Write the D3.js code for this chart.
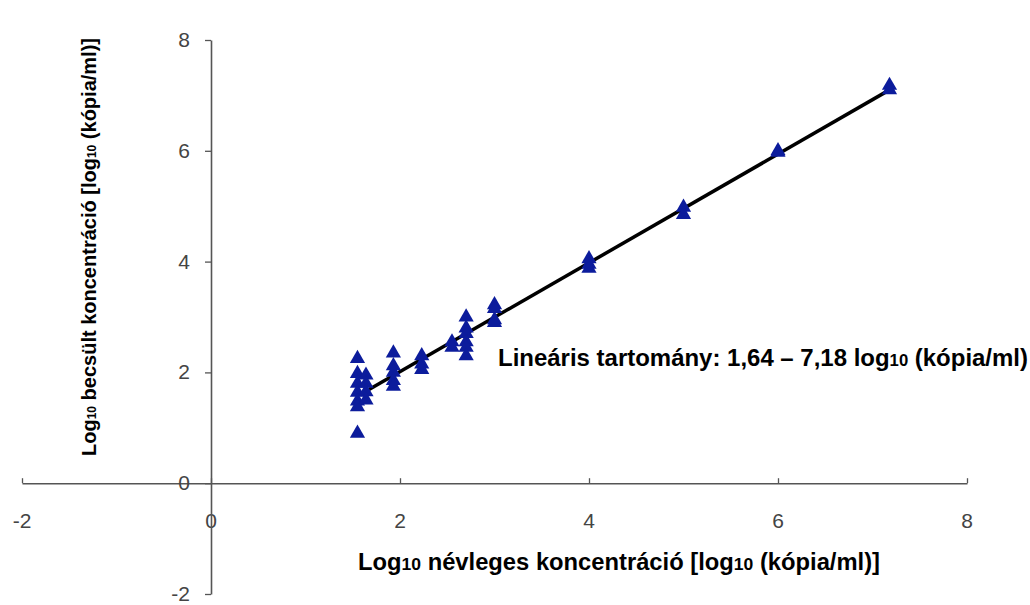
<!DOCTYPE html>
<html><head><meta charset="utf-8">
<script src="https://cdn.jsdelivr.net/npm/d3@7"></script>
<style>body{margin:0;background:#fff}</style>
</head><body>
<svg id="c" width="1030" height="605"></svg>
<script>
// Nominal log10 concentration (x) and estimated log10 concentration (y)
const xNominal = [1.55,1.55,1.55,1.55,1.55,1.55,1.55,
                  1.64,1.64,1.64,1.64,
                  1.93,1.93,1.93,1.93,1.93,
                  2.23,2.23,2.23,
                  2.55,2.55,
                  2.70,2.70,2.70,2.70,2.70,2.70,
                  3.00,3.00,3.00,3.00,
                  4.00,4.00,4.00,
                  5.00,5.00,
                  6.00,6.00,
                  7.18,7.18];
const yEstimated = [2.25,1.98,1.80,1.64,1.48,1.38,0.90,
                    1.95,1.80,1.65,1.50,
                    2.35,2.12,2.00,1.85,1.75,
                    2.30,2.15,2.05,
                    2.55,2.45,
                    3.00,2.80,2.70,2.55,2.45,2.30,
                    3.22,3.15,2.95,2.90,
                    4.05,3.95,3.88,
                    4.98,4.85,
                    6.00,5.97,
                    7.18,7.10];
const xTicks = [-2,0,2,4,6,8];
const yTicks = [-2,0,2,4,6,8];
const fitX = [1.64, 7.18];
const fitY = [1.66, 7.10];

const svg = d3.select("#c");
const x = d3.scaleLinear().domain([-2,8]).range([22,967]);
const y = d3.scaleLinear().domain([-2,8]).range([594,40]);
const axisColor = "#555";

// x axis line at y=0
const gx = svg.append("g").attr("transform",`translate(0,${y(0)})`);
gx.call(d3.axisTop(x).tickValues(xTicks).tickSize(5).tickSizeOuter(0).tickFormat(""));
gx.select(".domain").attr("stroke",axisColor).attr("stroke-width",1.6);
gx.selectAll(".tick line").attr("stroke",axisColor).attr("stroke-width",1.3);
svg.append("g").selectAll("text").data(xTicks).join("text")
  .attr("x",d=>x(d)).attr("y",y(0)+45)
  .attr("text-anchor","middle")
  .attr("font-family","Liberation Sans, Arial, sans-serif").attr("font-size",21)
  .attr("fill","#444").text(d=>d);

// y axis line at x=0
const gy = svg.append("g").attr("transform",`translate(${x(0)},0)`);
gy.call(d3.axisLeft(y).tickValues(yTicks).tickSize(6).tickSizeOuter(0).tickFormat(""));
gy.select(".domain").attr("stroke",axisColor).attr("stroke-width",1.6);
gy.selectAll(".tick line").attr("stroke",axisColor).attr("stroke-width",1.3);
svg.append("g").selectAll("text").data(yTicks).join("text")
  .attr("x",x(0)-21).attr("y",d=>y(d)+7)
  .attr("text-anchor","end")
  .attr("font-family","Liberation Sans, Arial, sans-serif").attr("font-size",21)
  .attr("fill","#444").text(d=>d);

// regression line
svg.append("line")
  .attr("x1",x(fitX[0])).attr("y1",y(fitY[0]))
  .attr("x2",x(fitX[1])).attr("y2",y(fitY[1]))
  .attr("stroke","#000").attr("stroke-width",3.5);

// points
const tri = d3.symbol().type(d3.symbolTriangle).size(100);
svg.append("g").selectAll("path").data(xNominal).join("path")
  .attr("d",tri)
  .attr("transform",(d,i)=>`translate(${x(d)},${y(yEstimated[i])})`)
  .attr("fill","#0c1c9c");

// annotation
const ann = svg.append("text").attr("x",498).attr("y",366)
  .attr("font-family","Liberation Sans, Arial, sans-serif").attr("font-weight","bold")
  .attr("font-size",23).attr("fill","#000")
  .attr("textLength",530).attr("lengthAdjust","spacingAndGlyphs");
ann.append("tspan").text("Lineáris tartomány: 1,64 – 7,18 log");
ann.append("tspan").attr("font-size",16).text("10");
ann.append("tspan").text(" (kópia/ml)");

// x title
const xt = svg.append("text").attr("x",358).attr("y",570)
  .attr("font-family","Liberation Sans Narrow, Arial Narrow, Liberation Sans, sans-serif")
  .attr("font-weight","bold").attr("font-size",23).attr("fill","#000")
  .attr("textLength",522).attr("lengthAdjust","spacingAndGlyphs");
xt.append("tspan").text("Log");
xt.append("tspan").attr("font-size",17).text("10");
xt.append("tspan").text(" névleges koncentráció [log");
xt.append("tspan").attr("font-size",17).text("10");
xt.append("tspan").text(" (kópia/ml)]");

// y title
const yt = svg.append("text")
  .attr("transform","translate(96,456) rotate(-90)")
  .attr("font-family","Liberation Sans, Arial, sans-serif").attr("font-weight","bold")
  .attr("font-size",20).attr("fill","#000")
  .attr("textLength",418).attr("lengthAdjust","spacingAndGlyphs");
yt.append("tspan").text("Log");
yt.append("tspan").attr("font-size",12).text("10");
yt.append("tspan").text(" becsült koncentráció [log");
yt.append("tspan").attr("font-size",12).text("10");
yt.append("tspan").text(" (kópia/ml)]");
</script>
</body></html>
